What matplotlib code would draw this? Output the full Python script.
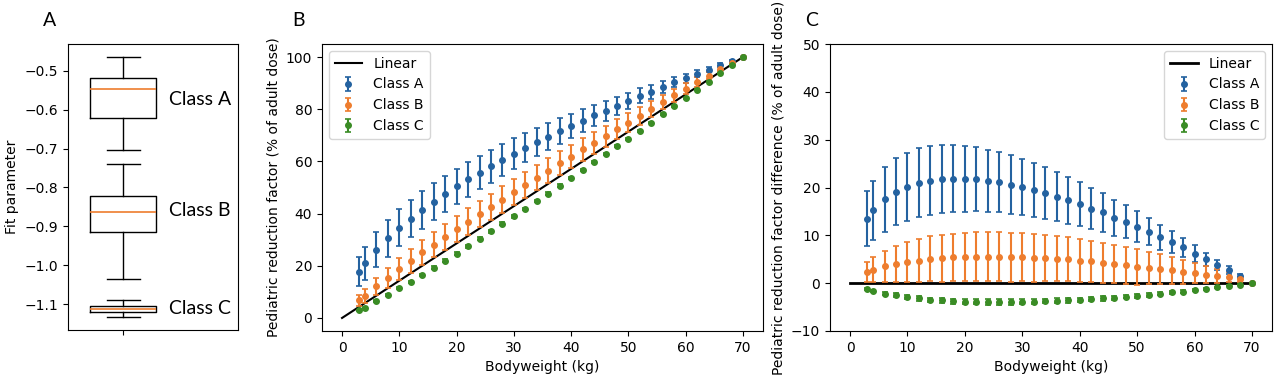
import numpy as np
import matplotlib
matplotlib.use("Agg")
import matplotlib.pyplot as plt

# bodyweights (kg)
weights = [3, 4, 6, 8, 10, 12, 14, 16, 18, 20, 22, 24, 26, 28, 30, 32, 34, 36, 38,
           40, 42, 44, 46, 48, 50, 52, 54, 56, 58, 60, 62, 64, 66, 68, 70]

# panel B: reduction factor (% of adult dose)
red_a = [17.8, 20.9, 26.1, 30.5, 34.5, 38.1, 41.4, 44.6, 47.5, 50.4, 53.1, 55.7,
         58.2, 60.6, 63.0, 65.2, 67.4, 69.5, 71.6, 73.6, 75.6, 77.7, 79.4, 81.4,
         83.2, 85.1, 86.7, 88.6, 90.4, 91.9, 93.6, 95.2, 97.0, 98.6, 100.0]
red_b = [6.7, 8.5, 12.1, 15.4, 18.7, 21.8, 25.1, 28.1, 31.1, 34.0, 36.9, 39.8,
         42.6, 45.4, 48.3, 51.0, 53.8, 56.5, 59.3, 61.8, 64.6, 67.2, 69.7, 72.3,
         74.8, 77.5, 80.0, 82.7, 85.3, 87.8, 90.4, 92.9, 95.6, 97.9, 100.0]
red_c = [3.0, 4.0, 6.4, 8.9, 11.4, 13.9, 16.5, 19.3, 21.9, 24.7, 27.5, 30.3,
         33.2, 36.1, 39.0, 41.8, 44.8, 47.7, 50.7, 53.6, 56.7, 59.7, 62.7, 65.8,
         68.7, 71.8, 74.9, 78.1, 81.1, 84.2, 87.4, 90.6, 93.7, 96.8, 100.0]

# panel C: difference to linear
diff_a = [13.5, 15.2, 17.5, 19.1, 20.2, 21.0, 21.4, 21.7, 21.8, 21.8, 21.7, 21.4,
          21.1, 20.6, 20.1, 19.5, 18.8, 18.1, 17.3, 16.5, 15.6, 14.8, 13.7, 12.8,
          11.8, 10.8, 9.6, 8.6, 7.5, 6.2, 5.0, 3.8, 2.7, 1.5, 0.0]
diff_b = [2.4, 2.8, 3.5, 4.0, 4.4, 4.7, 5.1, 5.2, 5.4, 5.4, 5.5, 5.5, 5.5, 5.4,
          5.4, 5.3, 5.2, 5.1, 5.0, 4.7, 4.6, 4.3, 4.0, 3.7, 3.4, 3.2, 2.9, 2.7,
          2.4, 2.1, 1.8, 1.5, 1.3, 0.8, 0.0]
diff_c = [-1.3, -1.7, -2.2, -2.5, -2.9, -3.2, -3.5, -3.6, -3.8, -3.9, -3.9, -3.95,
          -3.95, -3.95, -3.9, -3.9, -3.75, -3.7, -3.6, -3.5, -3.35, -3.2, -3.05,
          -2.8, -2.7, -2.45, -2.2, -1.95, -1.75, -1.5, -1.2, -0.85, -0.55, -0.3, 0.0]

# error bars (same in B and C)
err_a = [5.7, 6.2, 6.7, 7.0, 7.1, 7.2, 7.2, 7.1, 7.0, 6.85, 6.7, 6.45, 6.3, 6.15,
         5.9, 5.6, 5.4, 5.15, 4.95, 4.6, 4.3, 4.05, 3.75, 3.45, 3.2, 2.9, 2.6,
         2.3, 2.0, 1.7, 1.4, 1.1, 0.8, 0.4, 0.0]
err_b = [2.1, 2.6, 3.3, 3.8, 4.2, 4.5, 4.7, 4.9, 4.9, 5.0, 5.1, 5.1, 5.1, 5.1,
         5.0, 5.0, 4.8, 4.7, 4.6, 4.5, 4.3, 4.2, 4.0, 3.9, 3.7, 3.4, 3.1, 2.8,
         2.5, 2.1, 1.8, 1.4, 1.0, 0.5, 0.0]
err_c = [0.2, 0.25, 0.3, 0.35, 0.4, 0.45, 0.5, 0.5, 0.55, 0.55, 0.55, 0.55, 0.55,
         0.55, 0.55, 0.5, 0.5, 0.5, 0.5, 0.45, 0.45, 0.45, 0.4, 0.4, 0.35, 0.35,
         0.3, 0.3, 0.25, 0.2, 0.2, 0.15, 0.1, 0.05, 0.0]

linear_x = [0, 70]
linear_y = [0, 100]
zero_y = [0, 0]

# panel A: fit parameter box stats
classes = ["Class A", "Class B", "Class C"]
whislo = [-0.705, -1.036, -1.132]
q1 = [-0.622, -0.914, -1.119]
med = [-0.547, -0.862, -1.112]
q3 = [-0.518, -0.821, -1.104]
whishi = [-0.465, -0.740, -1.088]
label_y = [-0.575, -0.858, -1.110]

colors = ["#2462a0", "#ee7d2e", "#3a8c25"]

fig = plt.figure(figsize=(12.8, 3.82), dpi=100)
W, H = 1280, 382


def add_ax(x0, x1, y0, y1):
    return fig.add_axes([x0 / W, 1 - y1 / H, (x1 - x0) / W, (y1 - y0) / H])


# ---- A
axA = add_ax(68, 238, 44, 330)
for i in range(3):
    s = dict(whislo=whislo[i], q1=q1[i], med=med[i], q3=q3[i],
             whishi=whishi[i], fliers=[], label="")
    axA.bxp([s], positions=[1], widths=0.5, showfliers=False,
            medianprops=dict(color="#ee7d2e", lw=1.2))
axA.set_xlim(0.583, 1.871)
axA.set_ylim(-1.166, -0.4315)
axA.set_xticks([1])
axA.set_xticklabels([""])
axA.set_ylabel("Fit parameter")
for i in range(3):
    axA.text(0.595, label_y[i], classes[i], transform=axA.get_yaxis_transform(),
             va="center", ha="left", fontsize=14, family="Lato")

# ---- B
axB = add_ax(322, 763, 44, 331)
axB.plot(linear_x, linear_y, color="black", lw=1.5, label="Linear")
for vals, errs, c, lab in zip([red_a, red_b, red_c], [err_a, err_b, err_c],
                              colors, classes):
    axB.errorbar(weights, vals, yerr=errs, fmt="o", color=c, ms=4,
                 capsize=2.5, elinewidth=1.5, capthick=1.2, label=lab)
axB.set_xlim(-3.5, 73.5)
axB.set_ylim(-5, 105)
axB.set_xlabel("Bodyweight (kg)")
axB.set_ylabel("Pediatric reduction factor (% of adult dose)")
axB.legend(loc="upper left")

# ---- C
axC = add_ax(830, 1272, 44, 331)
axC.plot(linear_x, zero_y, color="black", lw=2, label="Linear")
for vals, errs, c, lab in zip([diff_a, diff_b, diff_c], [err_a, err_b, err_c],
                              colors, classes):
    axC.errorbar(weights, vals, yerr=errs, fmt="o", color=c, ms=4,
                 capsize=2.5, elinewidth=1.5, capthick=1.2, label=lab)
axC.set_xlim(-3.5, 73.5)
axC.set_ylim(-10, 50)
axC.set_xlabel("Bodyweight (kg)")
axC.set_ylabel("Pediatric reduction factor difference (% of adult dose)")
axC.legend(loc="upper right")

for lab, x in zip(["A", "B", "C"], [50, 298, 812]):
    fig.text(x / W, 1 - 20 / H, lab, ha="center", va="center", fontsize=14,
             family="Lato")

fig.savefig("out.png", dpi=100)
